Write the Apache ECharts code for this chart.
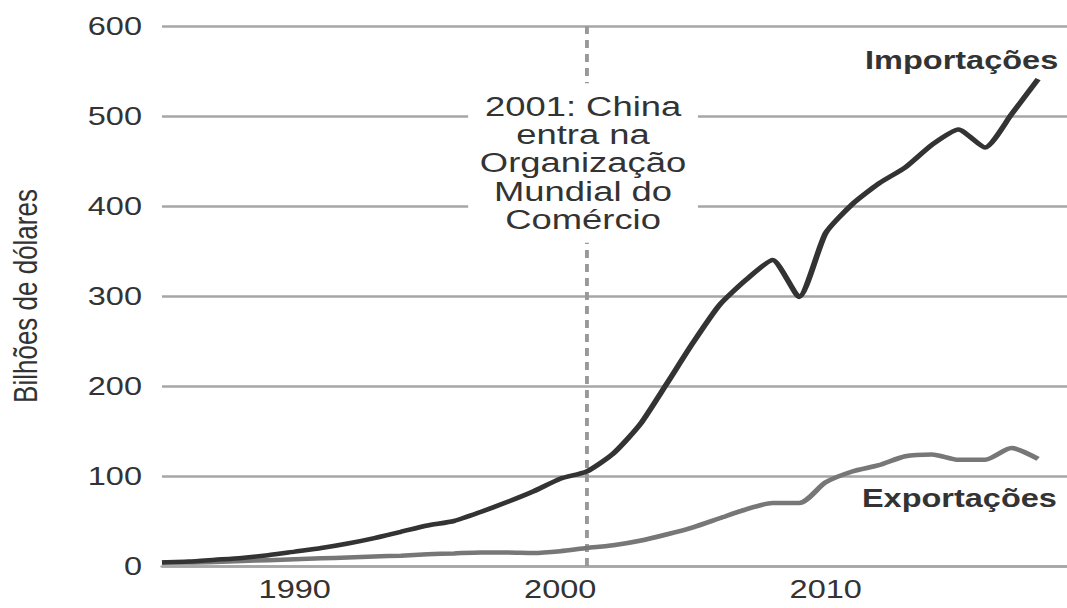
<!DOCTYPE html>
<html>
<head>
<meta charset="utf-8">
<script src="https://cdn.jsdelivr.net/npm/echarts@6/dist/echarts.min.js"></script>
<style>
  html, body { margin: 0; padding: 0; background: #ffffff; overflow: hidden; }
  #c { width: 820.77px; height: 608px; transform: scaleX(1.3); transform-origin: 0 0; }
</style>
</head>
<body>
<div id="c"></div>
<script>
const years = [1985, 1986, 1987, 1988, 1989, 1990, 1991, 1992, 1993, 1994, 1995, 1996, 1997, 1998, 1999, 2000, 2001, 2002, 2003, 2004, 2005, 2006, 2007, 2008, 2009, 2010, 2011, 2012, 2013, 2014, 2015, 2016, 2017, 2018];
const importacoes = [4, 5, 7, 9, 12, 16, 20, 25, 31, 38, 45, 50, 60, 71, 83, 97, 105, 125, 157, 202, 248, 290, 318, 340, 299, 370, 402, 425, 443, 468, 485, 465, 502, 541];
const exportacoes = [4, 4, 4.5, 5.5, 6.5, 7.5, 8.5, 9.5, 10.5, 11.5, 13, 14, 15, 15, 14.5, 16.5, 20, 23, 28, 35, 43, 53, 63, 70, 70, 93, 105, 112, 122, 124, 118, 118, 131, 119];
const xTickLabels = [1990, 2000, 2010];
const yTicks = [0, 100, 200, 300, 400, 500, 600];
const wtoYear = 2001;
const annotationText = '2001: China\nentra na\nOrganização\nMundial do\nComércio';
const seriesNames = ['Importações', 'Exportações'];
const yTitle = 'Bilhões de dólares';

const FONT = '"Liberation Sans", Arial, Helvetica, sans-serif';
const chart = echarts.init(document.getElementById('c'), null, { renderer: 'svg' });

const pairs = (vals) => years.map((y, i) => [y, vals[i]]);

chart.setOption({
  backgroundColor: '#ffffff',
  animation: false,
  grid: { left: 124.6, right: 0, top: 26, bottom: 42, containLabel: false, outerBoundsMode: 'none' },
  xAxis: {
    type: 'value',
    min: 1985,
    max: 2019.1,
    axisLine: { show: true, lineStyle: { color: '#a6a6a6', width: 2.5 } },
    axisTick: { show: false },
    splitLine: { show: false },
    axisLabel: {
      customValues: xTickLabels,
      formatter: (v) => String(v),
      fontFamily: FONT, fontSize: 25, color: '#333333', margin: 11
    }
  },
  yAxis: {
    type: 'value',
    min: yTicks[0],
    max: yTicks[yTicks.length - 1],
    interval: 100,
    name: yTitle,
    nameLocation: 'middle',
    nameGap: 92,
    nameRotate: 90,
    nameTextStyle: { fontFamily: FONT, fontSize: 26, color: '#333333' },
    axisLine: { show: false },
    axisTick: { show: false },
    splitLine: { show: true, lineStyle: { color: '#a6a6a6', width: 2.5 } },
    axisLabel: { fontFamily: FONT, fontSize: 25, color: '#333333', margin: 15.4 }
  },
  series: [
    {
      name: seriesNames[1],
      type: 'line',
      data: pairs(exportacoes),
      smooth: 0.25,
      showSymbol: false,
      lineStyle: { color: '#777777', width: 4.5 },
      z: 3
    },
    {
      name: seriesNames[0],
      type: 'line',
      data: pairs(importacoes),
      smooth: 0.2,
      showSymbol: false,
      lineStyle: { color: '#333333', width: 4.5 },
      z: 4,
      markLine: {
        silent: true,
        symbol: ['none', 'none'],
        label: { show: false },
        lineStyle: { color: '#999999', width: 3, type: [8, 6] },
        data: [{ xAxis: wtoYear }],
        z: 2
      }
    }
  ],
  graphic: [
    {
      type: 'text', z: 100,
      x: 448.5, y: 163,
      style: {
        text: annotationText,
        align: 'center', verticalAlign: 'middle',
        font: '28px ' + FONT,
        lineHeight: 28.3,
        fill: '#333333',
        backgroundColor: '#ffffff',
        padding: [9, 9, 9, 9]
      }
    },
    {
      type: 'text', z: 100,
      x: 665.4, y: 60,
      style: {
        text: seriesNames[0],
        align: 'left', verticalAlign: 'middle',
        font: 'bold 25px ' + FONT,
        fill: '#333333'
      }
    },
    {
      type: 'text', z: 100,
      x: 663, y: 498,
      style: {
        text: seriesNames[1],
        align: 'left', verticalAlign: 'middle',
        font: 'bold 25px ' + FONT,
        fill: '#333333'
      }
    }
  ]
});
</script>
</body>
</html>
